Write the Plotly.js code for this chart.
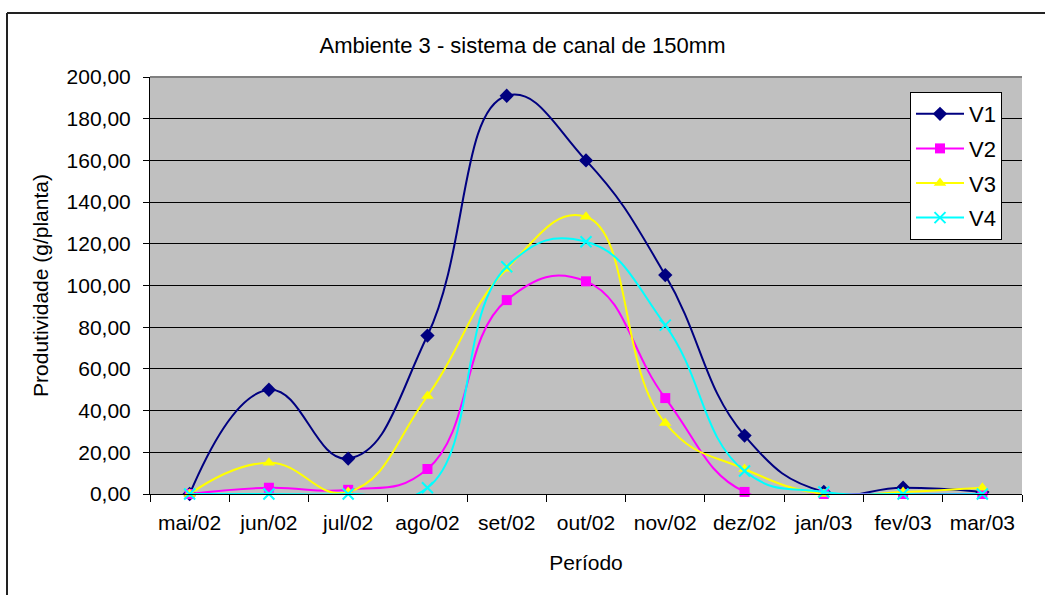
<!DOCTYPE html>
<html><head><meta charset="utf-8">
<script src="https://cdn.plot.ly/plotly-3.0.1.min.js"></script>
<style>html,body{margin:0;padding:0;background:#fff}#c{width:1045px;height:595px}</style>
</head><body><div id="c"></div>
<script>
const categories = ["mai/02","jun/02","jul/02","ago/02","set/02","out/02","nov/02","dez/02","jan/03","fev/03","mar/03"];
const v1 = [0, 50, 17, 76, 191, 160, 105, 28, 1, 3, 1];
const v2 = [0, 3, 2, 12, 93, 102, 46, 1, 0, 0, 0];
const v3 = [0, 15, 1, 47, 108, 133, 34, 12, 0, 1, 3];
const v4 = [0, 0, 0, 3, 109, 121, 81, 11, 1, 0, 0];
const seriesNames = ["V1","V2","V3","V4"];
const colors = ["#000080","#FF00FF","#FFFF00","#00FFFF"];
const symbols = ["diamond","square","triangle-up","x-thin"];
const sizes = [11, 10, 11, 11];
const data = [v1,v2,v3,v4].map((v,i)=>({
  x: categories, y: v, name: seriesNames[i], legendgroup: seriesNames[i],
  type:"scatter", mode:"lines+markers",
  line:{color:colors[i], width:2, shape:"spline", smoothing:1.3},
  marker:{symbol:symbols[i], color:colors[i], size:sizes[i], line:{color:colors[i], width: i===3?2:0}},
  cliponaxis:false
}));
const L=150, R=1022, T=77, B=494;
const px=x=>(x-L)/(R-L), py=y=>(B-y)/(B-T);
const layout = {
  width:1045, height:595,
  margin:{l:L, r:1045-R, t:T, b:595-B},
  paper_bgcolor:"#ffffff", plot_bgcolor:"#C0C0C0",
  font:{family:"Liberation Sans, Arial, sans-serif", size:21, color:"#000"},
  separators:",.",
  title:{text:"Ambiente 3 - sistema de canal de 150mm", x:0.5, xanchor:"center", y:1-45/595, yanchor:"middle", font:{size:22}},
  xaxis:{type:"category", tickson:"boundaries", ticks:"outside", ticklen:7, tickcolor:"#000",
    showline:true, linecolor:"#000", linewidth:1, showgrid:false,
    range:[-0.5,10.5], tickfont:{size:21}, ticklabelstandoff:10,
    title:{text:"Período", font:{size:21}, standoff:22}},
  yaxis:{range:[0,200], tickvals:[0,20,40,60,80,100,120,140,160,180,200], tickformat:".2f",
    ticks:"outside", ticklen:6, tickcolor:"#000", showline:true, linecolor:"#000", linewidth:1,
    showgrid:true, gridcolor:"#000", gridwidth:1, zeroline:false, tickfont:{size:21}, ticklabelstandoff:8,
    title:{text:"Produtividade (g/planta)", font:{size:21}, standoff:12}},
  legend:{x:px(910), y:py(92), xanchor:"left", yanchor:"top", bgcolor:"#fff", bordercolor:"#000", borderwidth:1,
    font:{size:22}, itemwidth:48, traceorder:"grouped", tracegroupgap:3},
  shapes:[
    {type:"line", xref:"paper", yref:"paper", x0:0, x1:1, y0:1, y1:1, line:{color:"#808080", width:2}},
    {type:"line", xref:"paper", yref:"paper", x0:px(7), x1:px(1046), y0:py(13), y1:py(13), line:{color:"#222", width:2}},
    {type:"line", xref:"paper", yref:"paper", x0:px(7), x1:px(7), y0:py(13), y1:py(596), line:{color:"#222", width:2}}
  ],
  showlegend:true
};
Plotly.newPlot("c", data, layout, {displayModeBar:false, staticPlot:true});
</script></body></html>
